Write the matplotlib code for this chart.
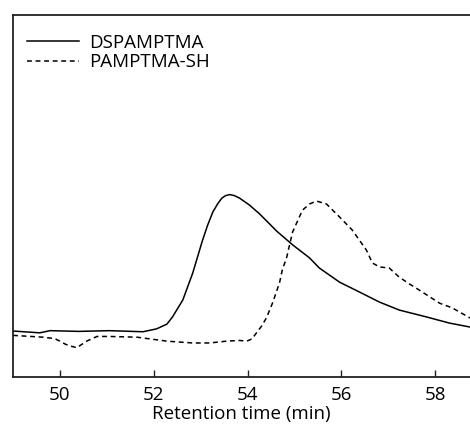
import matplotlib
matplotlib.use("Agg")
import matplotlib.pyplot as plt

plt.rcParams['font.family'] = ['Open Sans', 'DejaVu Sans']

# Chromatogram traces (retention time in min, detector response in arbitrary units)
dspamptma_t = [49.00, 49.57, 49.79, 50.40, 51.06, 51.77, 52.06, 52.28, 52.40, 52.62,
               52.83, 53.04, 53.15, 53.26, 53.36, 53.45, 53.53, 53.62, 53.72, 53.83,
               54.04, 54.26, 54.62, 54.96, 55.32, 55.53, 55.96, 56.38, 56.81, 57.23,
               57.81, 58.30, 58.74]
dspamptma_y = [12.7, 12.2, 12.8, 12.6, 12.8, 12.5, 13.3, 14.6, 16.6, 21.3,
               28.7, 37.8, 42.0, 45.6, 47.8, 49.4, 50.1, 50.4, 50.1, 49.4,
               47.5, 45.0, 40.3, 36.5, 32.9, 30.1, 26.2, 23.5, 20.7, 18.5,
               16.6, 14.9, 13.8]

pamptma_sh_t = [49.00, 49.64, 49.89, 50.00, 50.11, 50.21, 50.36, 50.57, 50.79, 51.06,
                51.64, 52.28, 52.83, 53.19, 53.55, 53.83, 53.98, 54.09, 54.19, 54.30,
                54.40, 54.53, 54.68, 54.74, 54.83, 54.96, 55.17, 55.32, 55.47, 55.68,
                55.96, 56.23, 56.53, 56.66, 56.81, 57.02, 57.23, 57.45, 57.66, 58.09,
                58.36, 58.51, 58.74]
pamptma_sh_y = [11.5, 11.0, 10.6, 9.9, 9.1, 8.6, 8.1, 9.9, 11.2, 11.2,
                11.0, 9.9, 9.4, 9.4, 9.9, 10.1, 9.9, 10.5, 12.2, 14.1,
                16.3, 20.4, 26.0, 29.6, 32.9, 40.1, 46.1, 47.8, 48.6, 47.8,
                44.2, 40.6, 35.1, 31.5, 30.4, 30.1, 27.6, 25.7, 24.0, 20.4,
                19.1, 18.0, 16.3]

x_ticks = [50, 52, 54, 56, 58]

fig = plt.figure(figsize=(4.70, 4.25), dpi=100)
ax = fig.add_axes([13 / 470, 48 / 425, 457 / 470, 362 / 425])

ax.plot(dspamptma_t, dspamptma_y, color='black', lw=1.1, label='DSPAMPTMA')
ax.plot(pamptma_sh_t, pamptma_sh_y, color='black', lw=1.1,
        linestyle=(0, (3.2, 2.4)), label='PAMPTMA-SH')

ax.set_xlim(49.0, 58.74)
ax.set_ylim(0, 100)
ax.set_xticks(x_ticks)
ax.set_xticklabels([str(t) for t in x_ticks])
ax.set_yticks([])
ax.tick_params(axis='x', direction='in', length=5, width=1.0,
               labelsize=13.5, pad=6.5, color='#222222')
ax.set_xlabel('Retention time (min)', fontsize=13.5, labelpad=1)

for side in ('left', 'top', 'bottom'):
    ax.spines[side].set_linewidth(1.3)
    ax.spines[side].set_color('#222222')
ax.spines['right'].set_visible(False)

ax.legend(loc='upper left', bbox_to_anchor=(0.031, 0.948), frameon=False,
          fontsize=13.5, handlelength=2.75, handletextpad=0.55,
          labelspacing=0.08, borderaxespad=0, borderpad=0)

fig.savefig('out.png', dpi=100)
